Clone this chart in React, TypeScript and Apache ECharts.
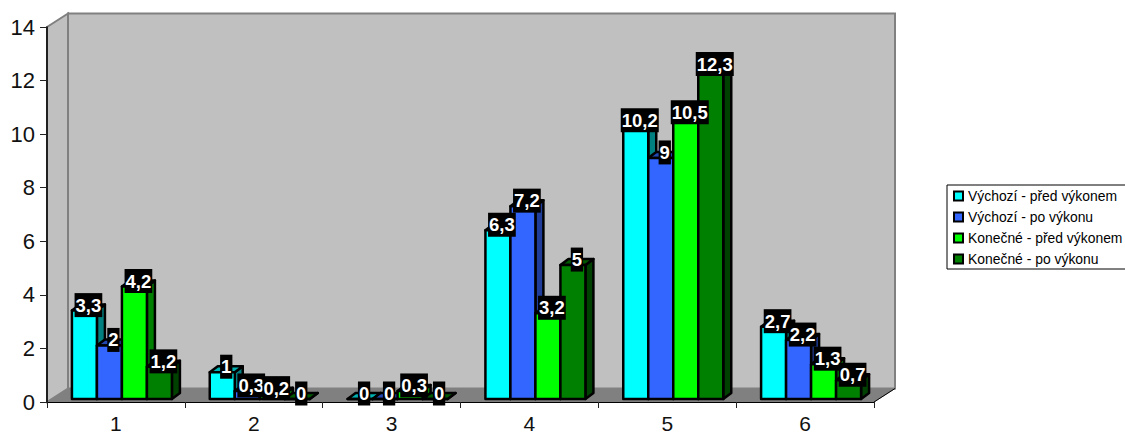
import React, { useEffect, useRef } from "react";
import * as echarts from "echarts";

const categories = ["1", "2", "3", "4", "5", "6"];
const seriesNames = [
  "Výchozí - před výkonem",
  "Výchozí - po výkonu",
  "Konečné - před výkonem",
  "Konečné - po výkonu",
];
const vychoziPred = [3.3, 1, 0, 6.3, 10.2, 2.7];
const vychoziPo = [2, 0.3, 0, 7.2, 9, 2.2];
const konecnePred = [4.2, 0.2, 0.3, 3.2, 10.5, 1.3];
const konecnePo = [1.2, 0, 0, 5, 12.3, 0.7];
const seriesValues = [vychoziPred, vychoziPo, konecnePred, konecnePo];

const frontColors = ["#00FFFF", "#3366FF", "#00FF00", "#008000"];
const topColors = ["#00B0B0", "#2347B0", "#00B000", "#005800"];
const sideColors = ["#008080", "#1F3D99", "#008000", "#004000"];

const PLOT = { left: 47, right: 874, top: 27, bottom: 402 };
const WALL_DX = 21;
const WALL_DY = 13.5;
const BAR_W = 25;
const BAR_DX = 8;
const BAR_DY = 6;
const GROUP_SHIFT = 6;
const BASE_LIFT = 3;

const wallStyle = { fill: "#C0C0C0", stroke: "#808080", lineWidth: 2 };

// One prism: front face, top face and right-hand side face, plus the value tag.
function prism(seriesIndex: number) {
  return (_params: any, api: any) => {
    const cat = api.value(0);
    const val = api.value(1);
    const top = api.coord([cat, val]);
    const base = api.coord([cat, 0]);
    const x0 = top[0] + GROUP_SHIFT + (seriesIndex - 2) * BAR_W;
    const x1 = x0 + BAR_W;
    const yB = base[1] - BASE_LIFT;
    const yT = top[1] - BASE_LIFT;
    const edge = { stroke: "#000", lineWidth: 2.5, lineJoin: "round" };
    const label = String(val).replace(".", ",");
    return {
      type: "group",
      children: [
        {
          type: "polygon",
          shape: { points: [[x1, yB], [x1 + BAR_DX, yB - BAR_DY], [x1 + BAR_DX, yT - BAR_DY], [x1, yT]] },
          style: { fill: sideColors[seriesIndex], ...edge },
        },
        {
          type: "polygon",
          shape: { points: [[x0, yT], [x0 + BAR_DX, yT - BAR_DY], [x1 + BAR_DX, yT - BAR_DY], [x1, yT]] },
          style: { fill: topColors[seriesIndex], ...edge },
        },
        {
          type: "rect",
          shape: { x: x0, y: yT, width: BAR_W, height: yB - yT },
          style: { fill: frontColors[seriesIndex], ...edge },
        },
        {
          type: "text",
          z2: 100,
          style: {
            x: x0 + BAR_W / 2 + BAR_DX / 2,
            y: yT - 5.5,
            text: label,
            align: "center",
            verticalAlign: "middle",
            fill: "#FFFFFF",
            font: 'bold 18.5px "Liberation Sans", Arial, sans-serif',
            backgroundColor: "#000000",
            padding: [3, 1, 2, 1],
          },
        },
      ],
    };
  };
}

export default function App() {
  const ref = useRef<HTMLDivElement>(null);

  useEffect(() => {
    document.body.style.margin = "0";
    const chart = echarts.init(ref.current!, undefined, { renderer: "svg" });
    const { left, right, top, bottom } = PLOT;
    chart.setOption({
      animation: false,
      backgroundColor: "#FFFFFF",
      textStyle: { fontFamily: '"Liberation Sans", Arial, sans-serif' },
      grid: { left, top, width: right - left, height: bottom - top, outerBoundsMode: "none" },
      xAxis: {
        type: "category",
        data: categories,
        axisLine: { lineStyle: { color: "#000", width: 1 } },
        axisTick: { show: true, length: 6, lineStyle: { color: "#222" } },
        axisLabel: { fontSize: 21, color: "#111", margin: 11 },
        z: 5,
      },
      yAxis: {
        type: "value",
        min: 0,
        max: 14,
        interval: 2,
        splitLine: { show: false },
        axisLine: { show: true, lineStyle: { color: "#000", width: 1.5 } },
        axisTick: { show: true, length: 7, lineStyle: { color: "#222" } },
        axisLabel: { fontSize: 22, color: "#111", margin: 12 },
        z: 5,
      },
      legend: {
        orient: "vertical",
        left: 947,
        top: 185,
        padding: [4, 8, 3, 6],
        borderColor: "#000",
        borderWidth: 1,
        itemWidth: 9,
        itemHeight: 9,
        itemGap: 7,
        icon: "rect",
        align: "left",
        selectedMode: false,
        textStyle: { fontSize: 13.9, color: "#000" },
        data: seriesNames,
      },
      graphic: [
        {
          type: "polygon",
          z: -1,
          silent: true,
          shape: { points: [[left, bottom], [left + WALL_DX, bottom - WALL_DY], [right + WALL_DX, bottom - WALL_DY], [right, bottom]] },
          style: { fill: "#808080", stroke: "#808080" },
        },
        {
          type: "polygon",
          z: -1,
          silent: true,
          shape: { points: [[left, top], [left + WALL_DX, top - WALL_DY], [left + WALL_DX, bottom - WALL_DY], [left, bottom]] },
          style: wallStyle,
        },
        {
          type: "rect",
          z: -1,
          silent: true,
          shape: { x: left + WALL_DX, y: top - WALL_DY, width: right - left, height: bottom - top },
          style: wallStyle,
        },
        {
          type: "polyline",
          z: -1,
          silent: true,
          shape: { points: [[right, bottom], [right + WALL_DX, bottom - WALL_DY]] },
          style: { stroke: "#000", lineWidth: 1, fill: "none" },
        },
      ],
      series: seriesValues.map((values, i) => ({
        type: "custom",
        name: seriesNames[i],
        z: 3,
        clip: false,
        silent: true,
        itemStyle: { color: frontColors[i], borderColor: "#000", borderWidth: 2 },
        encode: { x: 0, y: 1 },
        data: values.map((v, c) => [c, v]),
        renderItem: prism(i),
      })),
    });
    return () => chart.dispose();
  }, []);

  return <div ref={ref} style={{ width: 1125, height: 435 }} />;
}
